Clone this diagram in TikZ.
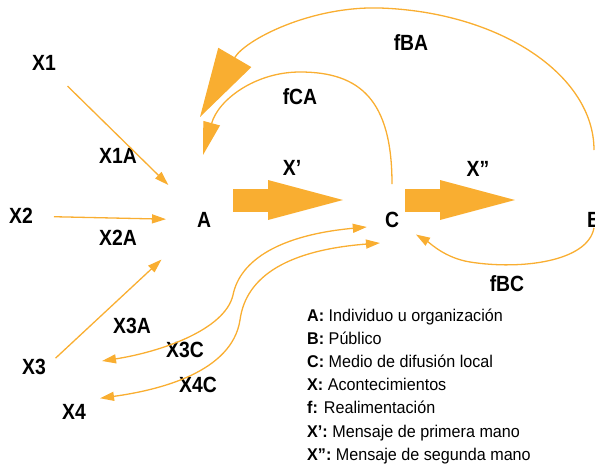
\documentclass[tikz,border=0pt]{standalone}
\usepackage{fontspec}
\setmainfont{Liberation Sans}[FakeStretch=0.95]
\newfontfamily\labfont{Liberation Sans}[FakeStretch=0.88]
\usetikzlibrary{arrows.meta,calc}

\definecolor{naranja}{HTML}{F9AE31}

\tikzset{
  lbl/.style={font={\fontsize{22}{24}\labfont\bfseries}, inner sep=0pt},
  leyenda/.style={font={\fontsize{17}{20}\selectfont}, anchor=base west, inner sep=0pt},
  flecha/.style={draw=naranja, line width=1.3pt, -{Triangle[length=14pt,width=9pt]}},
  doble/.style={draw=naranja, line width=1.3pt, {Triangle[length=14pt,width=9pt]}-{Triangle[length=14pt,width=9pt]}},
  gruesa/.style={draw=naranja, line width=23pt, -{Triangle[length=75pt,width=40pt,line width=0pt]}}
}

\begin{document}
\begin{tikzpicture}[x=1pt,y=-1pt]
\useasboundingbox (0,0) rectangle (595,467);

\begin{scope}[every node/.style={lbl}]
    \node (X1) at (44,63) {X1};
    \node (X2) at (21,216) {X2};
    \node (X3) at (34,367) {X3};
    \node (X4) at (74,412) {X4};

    \node (A) at (204,220) {A};
    \node (C) at (392,220) {C};
    \node (B) at (594,220) {B};

    \node (X1A) at (118,156) {X1A};
    \node (X2A) at (118,238) {X2A};
    \node (X3A) at (132,326) {X3A};
    \node (X3C) at (185,350) {X3C};
    \node (X4C) at (198,385) {X4C};
    \node (Xp) at (292,168) {X’};
    \node (Xpp) at (478,169) {X”};
    \node (fCA) at (300,97) {fCA};
    \node (fBA) at (411,43) {fBA};
    \node (fBC) at (507,284) {fBC};
\end{scope}

\coordinate (pcA) at (203,155);
\coordinate (pbA) at (200,117);

% entradas hacia A
\draw[flecha, shorten <=33pt, shorten >=50pt] (X1.center) -- (A.center);
\draw[flecha, shorten <=33pt, shorten >=38pt] (X2.center) -- (A.center);
\draw[flecha, shorten <=13pt, shorten >=58pt] (X3.east) -- (A.center);

% mensajes
\draw[gruesa] ($(A)+(29,-20)$) -- ($(C)+(-49,-20)$);
\draw[gruesa] ($(C)+(13,-20)$) -- ($(B)+(-79,-20)$);

% realimentacion
\draw[flecha, -{Triangle[length=33pt,width=17pt]}, shorten <=36pt]
    (C.center) .. controls (392,100) and (360,72) .. (300,72)
    .. controls (255,72) and (218,100) .. (pcA);
\draw[flecha, -{Triangle[length=69pt,width=38pt]}, shorten <=70pt]
    (B.center) .. controls (594,75) and (500,12) .. (380,8)
    .. controls (310,6) and (245,40) .. (pbA);
\draw[flecha, shorten >=28pt]
    (B.south) .. controls (588,262) and (520,270) .. (470,262)
    .. controls (445,258) and (430,243) .. (C.center);

% X3, X4 con C
\draw[doble] ($(X3.east)+(56,-6)$) .. controls (160,352) and (225,330) .. (233,295)
    .. controls (240,260) and (280,235) .. ($(C.west)+(-18,7)$);
\draw[doble] ($(X4.north east)+(14,-6)$) .. controls (160,390) and (232,372) .. (240,320)
    .. controls (246,275) and (290,250) .. ($(C.south)+(-12,15)$);

% leyenda
\foreach \k/\t [count=\i from 0] in {A/Individuo u organización, B/Público,
    C/Medio de difusión local, X/Acontecimientos, f/Realimentación,
    X’/Mensaje de primera mano, X”/Mensaje de segunda mano}
  \node[leyenda] (ley\i) at (307,321+23.2*\i) {\textbf{\k:} \t};
\end{tikzpicture}
\end{document}
